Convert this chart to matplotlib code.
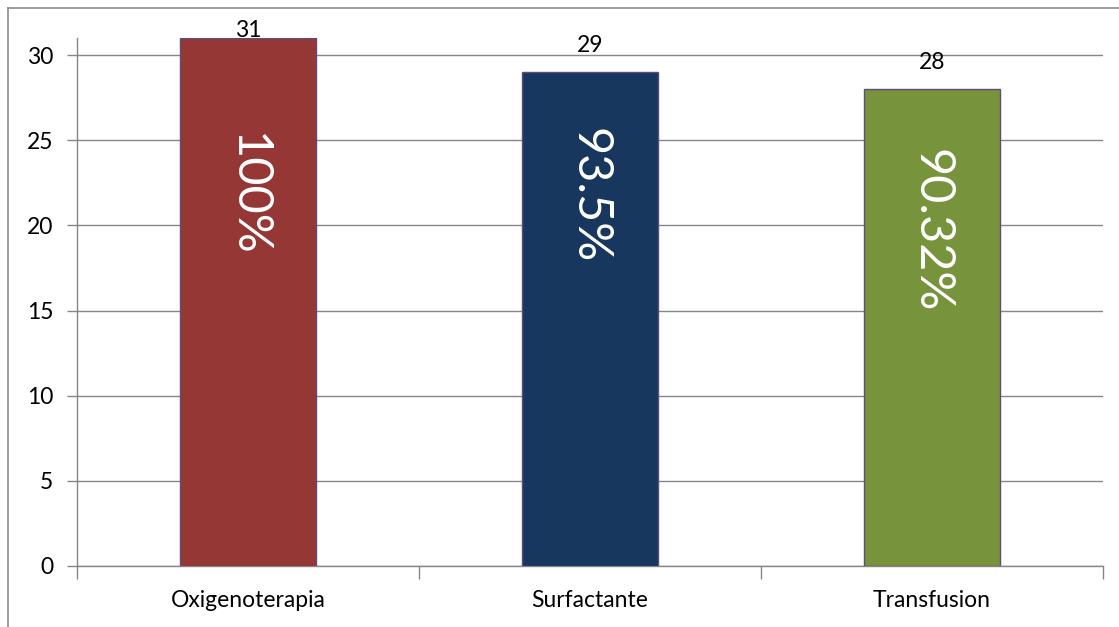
import matplotlib
matplotlib.use("Agg")
import matplotlib.pyplot as plt
from matplotlib.lines import Line2D

categories = ["Oxigenoterapia", "Surfactante", "Transfusion"]
counts = [31, 29, 28]
percent_labels = ["100%", "93.5%", "90.32%"]
bar_colors = ["#953735", "#17375E", "#77933C"]

plt.rcParams["font.family"] = ["Lato", "DejaVu Sans"]

fig = plt.figure(figsize=(11.19, 6.27), dpi=100)
ax = fig.add_axes([77 / 1119, 61 / 627, 1026 / 1119, 528 / 627])

x = list(range(len(categories)))
ax.bar(x, counts, width=0.4, color=bar_colors, edgecolor="#5F4B7E", linewidth=1.0, zorder=3)

# count above each bar, kept inside the chart area
for xi, c in zip(x, counts):
    ax.text(xi, min(c + 1.55, 31.45), str(c), ha="center", va="center", fontsize=16.5,
            color="black", zorder=4, clip_on=False)

# percentage written down the inside of each bar
pct_offsets = [5.6, 3.3, 3.5]
for xi, c, lab, off in zip(x, counts, percent_labels, pct_offsets):
    ax.text(xi, c - off, lab, rotation=-90, ha="center", va="top", fontsize=35,
            color="white", zorder=4)

ax.set_xlim(-0.5, 2.5)
ax.set_ylim(0, 31)
ax.set_yticks([0, 5, 10, 15, 20, 25, 30])
ax.yaxis.grid(True, color="#868686", linewidth=1.0, zorder=0)
ax.set_axisbelow(True)

ax.set_xticks([-0.5, 0.5, 1.5, 2.5])
ax.set_xticklabels([])
ax.set_xticks(x, minor=True)
ax.set_xticklabels(categories, minor=True)
ax.tick_params(axis="x", which="major", length=9, width=1, color="#868686")
ax.tick_params(axis="x", which="minor", length=0, pad=17, labelsize=16.5)
ax.tick_params(axis="y", length=7, width=1, color="#868686", labelsize=16.5, pad=10)

for side in ["top", "right"]:
    ax.spines[side].set_visible(False)
for side in ["left", "bottom"]:
    ax.spines[side].set_color("#868686")
    ax.spines[side].set_linewidth(1.0)

# chart area border (left and top edges)
fig.add_artist(Line2D([8 / 1119, 8 / 1119], [0, 1 - 8 / 627], transform=fig.transFigure,
                      color="#8C8C8C", linewidth=1.2))
fig.add_artist(Line2D([8 / 1119, 1], [1 - 8 / 627, 1 - 8 / 627], transform=fig.transFigure,
                      color="#8C8C8C", linewidth=1.2))

fig.savefig("out.png", dpi=100)
